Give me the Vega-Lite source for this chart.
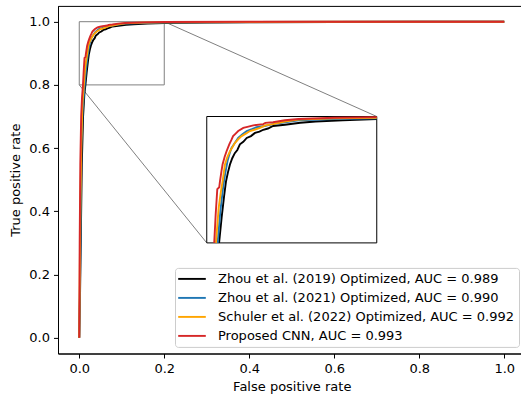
{
  "$schema": "https://vega.github.io/schema/vega-lite/v6.json",
  "width": 467.5,
  "height": 347.6,
  "autosize": {"type": "none"},
  "padding": {"left": 58, "top": 5.9, "right": 0, "bottom": 43.5},
  "background": "white",
  "config": {
    "font": "DejaVu Sans",
    "view": {"stroke": "black", "strokeWidth": 1},
    "axis": {
      "domainColor": "black", "domainWidth": 1, "tickColor": "black", "tickWidth": 1, "tickSize": 4.5,
      "labelColor": "black", "labelFontSize": 13, "labelFont": "DejaVu Sans",
      "titleColor": "black", "titleFontSize": 13, "titleFont": "DejaVu Sans", "titleFontWeight": "normal",
      "grid": false
    },
    "legend": {
      "orient": "bottom-right", "offset": 7, "padding": 4,
      "fillColor": "rgba(255,255,255,0.8)", "strokeColor": "#cccccc", "cornerRadius": 3,
      "symbolType": "M-2.3,0H2.3", "symbolSize": 144, "symbolStrokeWidth": 1.9, "symbolOffset": 6,
      "labelOffset": 19, "labelFontSize": 13, "labelColor": "black", "labelFont": "DejaVu Sans",
      "rowPadding": 5, "labelLimit": 400
    }
  },
  "datasets": {
    "roc": [
      {"model": "Zhou et al. (2019) Optimized, AUC = 0.989", "fpr": 0, "tpr": 0},
      {"model": "Zhou et al. (2019) Optimized, AUC = 0.989", "fpr": 0.002, "tpr": 0.15},
      {"model": "Zhou et al. (2019) Optimized, AUC = 0.989", "fpr": 0.004, "tpr": 0.35},
      {"model": "Zhou et al. (2019) Optimized, AUC = 0.989", "fpr": 0.006, "tpr": 0.55},
      {"model": "Zhou et al. (2019) Optimized, AUC = 0.989", "fpr": 0.009, "tpr": 0.7},
      {"model": "Zhou et al. (2019) Optimized, AUC = 0.989", "fpr": 0.012, "tpr": 0.77},
      {"model": "Zhou et al. (2019) Optimized, AUC = 0.989", "fpr": 0.0145, "tpr": 0.8},
      {"model": "Zhou et al. (2019) Optimized, AUC = 0.989", "fpr": 0.0175, "tpr": 0.84},
      {"model": "Zhou et al. (2019) Optimized, AUC = 0.989", "fpr": 0.0205, "tpr": 0.875},
      {"model": "Zhou et al. (2019) Optimized, AUC = 0.989", "fpr": 0.0226, "tpr": 0.897},
      {"model": "Zhou et al. (2019) Optimized, AUC = 0.989", "fpr": 0.025, "tpr": 0.912},
      {"model": "Zhou et al. (2019) Optimized, AUC = 0.989", "fpr": 0.0273, "tpr": 0.924},
      {"model": "Zhou et al. (2019) Optimized, AUC = 0.989", "fpr": 0.03, "tpr": 0.934},
      {"model": "Zhou et al. (2019) Optimized, AUC = 0.989", "fpr": 0.033, "tpr": 0.942},
      {"model": "Zhou et al. (2019) Optimized, AUC = 0.989", "fpr": 0.036, "tpr": 0.947},
      {"model": "Zhou et al. (2019) Optimized, AUC = 0.989", "fpr": 0.039, "tpr": 0.956},
      {"model": "Zhou et al. (2019) Optimized, AUC = 0.989", "fpr": 0.043, "tpr": 0.96},
      {"model": "Zhou et al. (2019) Optimized, AUC = 0.989", "fpr": 0.047, "tpr": 0.966},
      {"model": "Zhou et al. (2019) Optimized, AUC = 0.989", "fpr": 0.052, "tpr": 0.969},
      {"model": "Zhou et al. (2019) Optimized, AUC = 0.989", "fpr": 0.0567, "tpr": 0.974},
      {"model": "Zhou et al. (2019) Optimized, AUC = 0.989", "fpr": 0.062, "tpr": 0.976},
      {"model": "Zhou et al. (2019) Optimized, AUC = 0.989", "fpr": 0.0665, "tpr": 0.979},
      {"model": "Zhou et al. (2019) Optimized, AUC = 0.989", "fpr": 0.072, "tpr": 0.981},
      {"model": "Zhou et al. (2019) Optimized, AUC = 0.989", "fpr": 0.078, "tpr": 0.985},
      {"model": "Zhou et al. (2019) Optimized, AUC = 0.989", "fpr": 0.092, "tpr": 0.987},
      {"model": "Zhou et al. (2019) Optimized, AUC = 0.989", "fpr": 0.11, "tpr": 0.99},
      {"model": "Zhou et al. (2019) Optimized, AUC = 0.989", "fpr": 0.128, "tpr": 0.992},
      {"model": "Zhou et al. (2019) Optimized, AUC = 0.989", "fpr": 0.16, "tpr": 0.994},
      {"model": "Zhou et al. (2019) Optimized, AUC = 0.989", "fpr": 0.2, "tpr": 0.996},
      {"model": "Zhou et al. (2019) Optimized, AUC = 0.989", "fpr": 0.3, "tpr": 0.997},
      {"model": "Zhou et al. (2019) Optimized, AUC = 0.989", "fpr": 0.4, "tpr": 0.998},
      {"model": "Zhou et al. (2019) Optimized, AUC = 0.989", "fpr": 0.6, "tpr": 0.999},
      {"model": "Zhou et al. (2019) Optimized, AUC = 0.989", "fpr": 0.8, "tpr": 1.0},
      {"model": "Zhou et al. (2019) Optimized, AUC = 0.989", "fpr": 1.0, "tpr": 1.0},

      {"model": "Zhou et al. (2021) Optimized, AUC = 0.990", "fpr": 0, "tpr": 0},
      {"model": "Zhou et al. (2021) Optimized, AUC = 0.990", "fpr": 0.002, "tpr": 0.2},
      {"model": "Zhou et al. (2021) Optimized, AUC = 0.990", "fpr": 0.0035, "tpr": 0.4},
      {"model": "Zhou et al. (2021) Optimized, AUC = 0.990", "fpr": 0.005, "tpr": 0.6},
      {"model": "Zhou et al. (2021) Optimized, AUC = 0.990", "fpr": 0.008, "tpr": 0.72},
      {"model": "Zhou et al. (2021) Optimized, AUC = 0.990", "fpr": 0.011, "tpr": 0.77},
      {"model": "Zhou et al. (2021) Optimized, AUC = 0.990", "fpr": 0.0128, "tpr": 0.8},
      {"model": "Zhou et al. (2021) Optimized, AUC = 0.990", "fpr": 0.016, "tpr": 0.85},
      {"model": "Zhou et al. (2021) Optimized, AUC = 0.990", "fpr": 0.019, "tpr": 0.885},
      {"model": "Zhou et al. (2021) Optimized, AUC = 0.990", "fpr": 0.0202, "tpr": 0.897},
      {"model": "Zhou et al. (2021) Optimized, AUC = 0.990", "fpr": 0.022, "tpr": 0.912},
      {"model": "Zhou et al. (2021) Optimized, AUC = 0.990", "fpr": 0.0245, "tpr": 0.93},
      {"model": "Zhou et al. (2021) Optimized, AUC = 0.990", "fpr": 0.027, "tpr": 0.942},
      {"model": "Zhou et al. (2021) Optimized, AUC = 0.990", "fpr": 0.029, "tpr": 0.95},
      {"model": "Zhou et al. (2021) Optimized, AUC = 0.990", "fpr": 0.033, "tpr": 0.958},
      {"model": "Zhou et al. (2021) Optimized, AUC = 0.990", "fpr": 0.037, "tpr": 0.966},
      {"model": "Zhou et al. (2021) Optimized, AUC = 0.990", "fpr": 0.042, "tpr": 0.972},
      {"model": "Zhou et al. (2021) Optimized, AUC = 0.990", "fpr": 0.047, "tpr": 0.977},
      {"model": "Zhou et al. (2021) Optimized, AUC = 0.990", "fpr": 0.053, "tpr": 0.98},
      {"model": "Zhou et al. (2021) Optimized, AUC = 0.990", "fpr": 0.0586, "tpr": 0.983},
      {"model": "Zhou et al. (2021) Optimized, AUC = 0.990", "fpr": 0.068, "tpr": 0.985},
      {"model": "Zhou et al. (2021) Optimized, AUC = 0.990", "fpr": 0.078, "tpr": 0.988},
      {"model": "Zhou et al. (2021) Optimized, AUC = 0.990", "fpr": 0.092, "tpr": 0.991},
      {"model": "Zhou et al. (2021) Optimized, AUC = 0.990", "fpr": 0.108, "tpr": 0.994},
      {"model": "Zhou et al. (2021) Optimized, AUC = 0.990", "fpr": 0.15, "tpr": 0.996},
      {"model": "Zhou et al. (2021) Optimized, AUC = 0.990", "fpr": 0.2, "tpr": 0.997},
      {"model": "Zhou et al. (2021) Optimized, AUC = 0.990", "fpr": 0.4, "tpr": 0.999},
      {"model": "Zhou et al. (2021) Optimized, AUC = 0.990", "fpr": 0.6, "tpr": 1.0},
      {"model": "Zhou et al. (2021) Optimized, AUC = 0.990", "fpr": 1.0, "tpr": 1.0},

      {"model": "Schuler et al. (2022) Optimized, AUC = 0.992", "fpr": 0, "tpr": 0},
      {"model": "Schuler et al. (2022) Optimized, AUC = 0.992", "fpr": 0.0015, "tpr": 0.25},
      {"model": "Schuler et al. (2022) Optimized, AUC = 0.992", "fpr": 0.003, "tpr": 0.45},
      {"model": "Schuler et al. (2022) Optimized, AUC = 0.992", "fpr": 0.005, "tpr": 0.62},
      {"model": "Schuler et al. (2022) Optimized, AUC = 0.992", "fpr": 0.0075, "tpr": 0.74},
      {"model": "Schuler et al. (2022) Optimized, AUC = 0.992", "fpr": 0.0108, "tpr": 0.8},
      {"model": "Schuler et al. (2022) Optimized, AUC = 0.992", "fpr": 0.014, "tpr": 0.855},
      {"model": "Schuler et al. (2022) Optimized, AUC = 0.992", "fpr": 0.0165, "tpr": 0.88},
      {"model": "Schuler et al. (2022) Optimized, AUC = 0.992", "fpr": 0.0186, "tpr": 0.897},
      {"model": "Schuler et al. (2022) Optimized, AUC = 0.992", "fpr": 0.0214, "tpr": 0.924},
      {"model": "Schuler et al. (2022) Optimized, AUC = 0.992", "fpr": 0.024, "tpr": 0.935},
      {"model": "Schuler et al. (2022) Optimized, AUC = 0.992", "fpr": 0.0273, "tpr": 0.945},
      {"model": "Schuler et al. (2022) Optimized, AUC = 0.992", "fpr": 0.03, "tpr": 0.951},
      {"model": "Schuler et al. (2022) Optimized, AUC = 0.992", "fpr": 0.033, "tpr": 0.958},
      {"model": "Schuler et al. (2022) Optimized, AUC = 0.992", "fpr": 0.037, "tpr": 0.964},
      {"model": "Schuler et al. (2022) Optimized, AUC = 0.992", "fpr": 0.041, "tpr": 0.969},
      {"model": "Schuler et al. (2022) Optimized, AUC = 0.992", "fpr": 0.046, "tpr": 0.973},
      {"model": "Schuler et al. (2022) Optimized, AUC = 0.992", "fpr": 0.0508, "tpr": 0.977},
      {"model": "Schuler et al. (2022) Optimized, AUC = 0.992", "fpr": 0.056, "tpr": 0.979},
      {"model": "Schuler et al. (2022) Optimized, AUC = 0.992", "fpr": 0.0626, "tpr": 0.982},
      {"model": "Schuler et al. (2022) Optimized, AUC = 0.992", "fpr": 0.069, "tpr": 0.986},
      {"model": "Schuler et al. (2022) Optimized, AUC = 0.992", "fpr": 0.078, "tpr": 0.988},
      {"model": "Schuler et al. (2022) Optimized, AUC = 0.992", "fpr": 0.092, "tpr": 0.992},
      {"model": "Schuler et al. (2022) Optimized, AUC = 0.992", "fpr": 0.108, "tpr": 0.995},
      {"model": "Schuler et al. (2022) Optimized, AUC = 0.992", "fpr": 0.15, "tpr": 0.997},
      {"model": "Schuler et al. (2022) Optimized, AUC = 0.992", "fpr": 0.2, "tpr": 0.998},
      {"model": "Schuler et al. (2022) Optimized, AUC = 0.992", "fpr": 0.4, "tpr": 0.999},
      {"model": "Schuler et al. (2022) Optimized, AUC = 0.992", "fpr": 0.6, "tpr": 1.0},
      {"model": "Schuler et al. (2022) Optimized, AUC = 0.992", "fpr": 1.0, "tpr": 1.0},

      {"model": "Proposed CNN, AUC = 0.993", "fpr": 0, "tpr": 0},
      {"model": "Proposed CNN, AUC = 0.993", "fpr": 0.001, "tpr": 0.3},
      {"model": "Proposed CNN, AUC = 0.993", "fpr": 0.0025, "tpr": 0.55},
      {"model": "Proposed CNN, AUC = 0.993", "fpr": 0.0045, "tpr": 0.7},
      {"model": "Proposed CNN, AUC = 0.993", "fpr": 0.0065, "tpr": 0.76},
      {"model": "Proposed CNN, AUC = 0.993", "fpr": 0.0088, "tpr": 0.8},
      {"model": "Proposed CNN, AUC = 0.993", "fpr": 0.0105, "tpr": 0.845},
      {"model": "Proposed CNN, AUC = 0.993", "fpr": 0.0124, "tpr": 0.885},
      {"model": "Proposed CNN, AUC = 0.993", "fpr": 0.0147, "tpr": 0.888},
      {"model": "Proposed CNN, AUC = 0.993", "fpr": 0.0155, "tpr": 0.897},
      {"model": "Proposed CNN, AUC = 0.993", "fpr": 0.0175, "tpr": 0.915},
      {"model": "Proposed CNN, AUC = 0.993", "fpr": 0.0186, "tpr": 0.924},
      {"model": "Proposed CNN, AUC = 0.993", "fpr": 0.021, "tpr": 0.936},
      {"model": "Proposed CNN, AUC = 0.993", "fpr": 0.0233, "tpr": 0.945},
      {"model": "Proposed CNN, AUC = 0.993", "fpr": 0.0265, "tpr": 0.956},
      {"model": "Proposed CNN, AUC = 0.993", "fpr": 0.029, "tpr": 0.963},
      {"model": "Proposed CNN, AUC = 0.993", "fpr": 0.031, "tpr": 0.969},
      {"model": "Proposed CNN, AUC = 0.993", "fpr": 0.034, "tpr": 0.973},
      {"model": "Proposed CNN, AUC = 0.993", "fpr": 0.037, "tpr": 0.977},
      {"model": "Proposed CNN, AUC = 0.993", "fpr": 0.043, "tpr": 0.982},
      {"model": "Proposed CNN, AUC = 0.993", "fpr": 0.049, "tpr": 0.984},
      {"model": "Proposed CNN, AUC = 0.993", "fpr": 0.0547, "tpr": 0.986},
      {"model": "Proposed CNN, AUC = 0.993", "fpr": 0.0665, "tpr": 0.988},
      {"model": "Proposed CNN, AUC = 0.993", "fpr": 0.069, "tpr": 0.99},
      {"model": "Proposed CNN, AUC = 0.993", "fpr": 0.078, "tpr": 0.991},
      {"model": "Proposed CNN, AUC = 0.993", "fpr": 0.092, "tpr": 0.994},
      {"model": "Proposed CNN, AUC = 0.993", "fpr": 0.108, "tpr": 0.996},
      {"model": "Proposed CNN, AUC = 0.993", "fpr": 0.15, "tpr": 0.998},
      {"model": "Proposed CNN, AUC = 0.993", "fpr": 0.2, "tpr": 0.999},
      {"model": "Proposed CNN, AUC = 0.993", "fpr": 0.4, "tpr": 1.0},
      {"model": "Proposed CNN, AUC = 0.993", "fpr": 1.0, "tpr": 1.0}
    ],
    "box": [{"x0": 0, "x1": 0.2, "y0": 0.8, "y1": 1.0}],
    "links": [
      {"xa": 0.2, "ya": 1.0, "xb": 0.7, "yb": 0.7},
      {"xa": 0.0, "ya": 0.8, "xb": 0.3, "yb": 0.3}
    ]
  },
  "layer": [
    {
      "layer": [
        {
          "data": {"name": "box"},
          "mark": {"type": "rect", "fill": null, "fillOpacity": 0, "stroke": "#808080", "strokeWidth": 1},
          "encoding": {
            "x": {"field": "x0", "type": "quantitative", "scale": {"domain": [-0.05, 1.05], "nice": false, "zero": false},
                  "axis": {"title": "False positive rate", "values": [0, 0.2, 0.4, 0.6, 0.8, 1.0], "format": ".1f", "labelPadding": 4, "titlePadding": 5}},
            "x2": {"field": "x1"},
            "y": {"field": "y0", "type": "quantitative", "scale": {"domain": [-0.05, 1.05], "nice": false, "zero": false},
                  "axis": {"title": "True positive rate", "values": [0, 0.2, 0.4, 0.6, 0.8, 1.0], "format": ".1f", "labelPadding": 4, "titlePadding": 6}},
            "y2": {"field": "y1"}
          }
        },
        {
          "data": {"name": "links"},
          "mark": {"type": "rule", "stroke": "#808080", "strokeWidth": 1},
          "encoding": {
            "x": {"field": "xa", "type": "quantitative",
                  "axis": {"title": "False positive rate", "values": [0, 0.2, 0.4, 0.6, 0.8, 1.0], "format": ".1f", "labelPadding": 4, "titlePadding": 5}},
            "x2": {"field": "xb"},
            "y": {"field": "ya", "type": "quantitative",
                  "axis": {"title": "True positive rate", "values": [0, 0.2, 0.4, 0.6, 0.8, 1.0], "format": ".1f", "labelPadding": 4, "titlePadding": 6}},
            "y2": {"field": "yb"}
          }
        },
        {
          "data": {"name": "roc"},
          "mark": {"type": "line", "strokeWidth": 1.9},
          "encoding": {
            "x": {"field": "fpr", "type": "quantitative",
                  "axis": {"title": "False positive rate", "values": [0, 0.2, 0.4, 0.6, 0.8, 1.0], "format": ".1f", "labelPadding": 4, "titlePadding": 5}},
            "y": {"field": "tpr", "type": "quantitative",
                  "axis": {"title": "True positive rate", "values": [0, 0.2, 0.4, 0.6, 0.8, 1.0], "format": ".1f", "labelPadding": 4, "titlePadding": 6}},
            "color": {
              "field": "model", "type": "nominal",
              "scale": {
                "domain": ["Zhou et al. (2019) Optimized, AUC = 0.989", "Zhou et al. (2021) Optimized, AUC = 0.990", "Schuler et al. (2022) Optimized, AUC = 0.992", "Proposed CNN, AUC = 0.993"],
                "range": ["#000000", "#1f77b4", "#ffa500", "#d62728"]
              },
              "legend": {"title": null}
            }
          }
        }
      ]
    },
    {
      "layer": [
        {
          "data": {"name": "box"},
          "mark": {"type": "rect", "fill": "white", "stroke": "black", "strokeWidth": 1},
          "encoding": {
            "x": {"field": "x0", "type": "quantitative", "scale": {"domain": [0, 0.2], "range": [148.75, 318.75], "nice": false, "zero": false},
                  "axis": {"labels": false, "ticks": false, "domain": false, "grid": false, "title": null}},
            "x2": {"field": "x1"},
            "y": {"field": "y0", "type": "quantitative", "scale": {"domain": [0.8, 1.0], "range": [237.0, 110.6], "nice": false, "zero": false},
                  "axis": {"labels": false, "ticks": false, "domain": false, "grid": false, "title": null}},
            "y2": {"field": "y1"}
          }
        },
        {
          "data": {"name": "roc"},
          "transform": [{"filter": "datum.fpr <= 0.2 && datum.tpr >= 0.8"}],
          "mark": {"type": "line", "strokeWidth": 1.9},
          "encoding": {
            "x": {"field": "fpr", "type": "quantitative", "axis": {"labels": false, "ticks": false, "domain": false, "grid": false, "title": null}},
            "y": {"field": "tpr", "type": "quantitative", "axis": {"labels": false, "ticks": false, "domain": false, "grid": false, "title": null}},
            "color": {"field": "model", "type": "nominal", "legend": null}
          }
        }
      ]
    }
  ],
  "resolve": {"scale": {"x": "independent", "y": "independent"}}
}
